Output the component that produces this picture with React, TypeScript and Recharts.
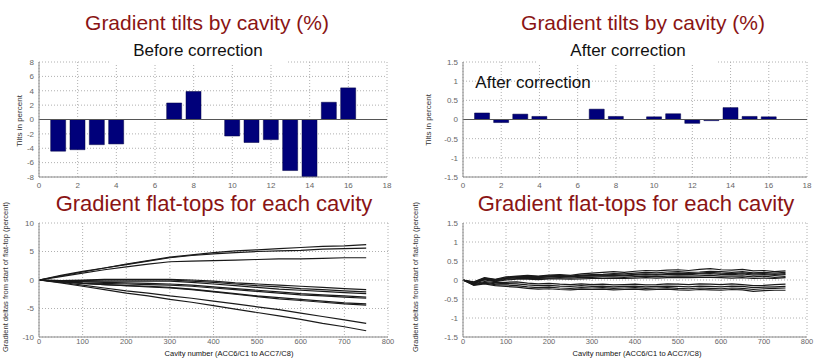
import { BarChart, Bar, LineChart, Line, XAxis, YAxis, CartesianGrid, ReferenceLine } from 'recharts';

// tilts per cavity (percent), cavities 5, 6 and 9 have no bar
const beforeCavity = [1, 2, 3, 4, 7, 8, 10, 11, 12, 13, 14, 15, 16];
const beforeTilt = [-4.4, -4.2, -3.5, -3.4, 2.3, 3.9, -2.3, -3.2, -2.8, -7.1, -8.0, 2.4, 4.4];
const afterCavity = [1, 2, 3, 4, 7, 8, 10, 11, 12, 13, 14, 15, 16];
const afterTilt = [0.17, -0.08, 0.14, 0.08, 0.27, 0.08, 0.07, 0.15, -0.1, -0.03, 0.31, 0.08, 0.07];

const tiltTicks = [0, 2, 4, 6, 8, 10, 12, 14, 16, 18];
const beforeYTicks = [-8, -6, -4, -2, 0, 2, 4, 6, 8];
const afterYTicks = [-1.5, -1, -0.5, 0, 0.5, 1, 1.5];
const cavityTicks = [0, 100, 200, 300, 400, 500, 600, 700, 800];
const beforeFlatTicks = [-10, -5, 0, 5, 10];

// flat-top deltas before correction, sampled every 50 cavities
const beforeX = [0, 50, 100, 150, 200, 250, 300, 350, 400, 450, 500, 550, 600, 650, 700, 750];
const up1 = [0, 0.8, 1.5, 2.1, 2.8, 3.4, 4.0, 4.4, 4.8, 5.1, 5.3, 5.5, 5.7, 5.9, 6.0, 6.2];
const up2 = [0, 0.7, 1.4, 2.1, 2.7, 3.3, 3.9, 4.3, 4.6, 4.8, 5.0, 5.1, 5.2, 5.4, 5.5, 5.6];
const up3 = [0, 0.6, 1.2, 1.8, 2.3, 2.8, 3.2, 3.3, 3.4, 3.5, 3.6, 3.7, 3.7, 3.8, 3.9, 3.9];
const mid1 = [0, -0.1, 0, 0.1, 0.1, 0.1, 0.1, 0, -0.2, -0.5, -0.7, -0.9, -1.1, -1.3, -1.5, -1.7];
const mid2 = [0, -0.1, -0.1, 0, 0, 0, 0, -0.2, -0.4, -0.7, -1.0, -1.2, -1.5, -1.7, -1.9, -2.1];
const mid3 = [0, -0.2, -0.2, -0.2, -0.2, -0.2, -0.2, -0.4, -0.7, -1.0, -1.3, -1.6, -1.8, -2.0, -2.2, -2.4];
const mid4 = [0, -0.2, -0.3, -0.4, -0.5, -0.6, -0.7, -0.9, -1.2, -1.5, -1.8, -2.1, -2.4, -2.6, -2.8, -3.0];
const mid5 = [0, -0.3, -0.5, -0.6, -0.7, -0.8, -0.9, -1.1, -1.4, -1.7, -2.0, -2.3, -2.6, -2.8, -3.0, -3.2];
const mid6 = [0, -0.3, -0.6, -0.8, -1.0, -1.1, -1.3, -1.6, -2.0, -2.4, -2.8, -3.1, -3.4, -3.7, -4.0, -4.2];
const mid7 = [0, -0.3, -0.6, -0.8, -1.0, -1.2, -1.4, -1.7, -2.1, -2.5, -2.9, -3.3, -3.6, -3.9, -4.2, -4.4];
const low1 = [0, -0.4, -0.9, -1.4, -1.9, -2.3, -2.8, -3.2, -3.7, -4.2, -4.7, -5.2, -5.8, -6.4, -7.0, -7.6];
const low2 = [0, -0.5, -1.1, -1.7, -2.3, -2.8, -3.4, -3.9, -4.5, -5.1, -5.7, -6.3, -6.9, -7.6, -8.2, -8.9];
const beforeLines = [up1, up2, up3, mid1, mid2, mid3, mid4, mid5, mid6, mid7, low1, low2];

// flat-top deltas after correction, sampled every 25 cavities
const afterX = [0, 25, 50, 75, 100, 125, 150, 175, 200, 225, 250, 275, 300, 325, 350, 375, 400, 425, 450, 475, 500, 525, 550, 575, 600, 625, 650, 675, 700, 725, 750];
const aA = [0, -0.05, 0.06, 0.02, 0.08, 0.1, 0.12, 0.1, 0.13, 0.14, 0.12, 0.16, 0.18, 0.2, 0.22, 0.2, 0.23, 0.25, 0.24, 0.26, 0.27, 0.25, 0.28, 0.3, 0.27, 0.26, 0.28, 0.24, 0.25, 0.22, 0.24];
const aB = [0, -0.08, 0.04, 0.0, 0.05, 0.08, 0.1, 0.09, 0.11, 0.12, 0.1, 0.13, 0.14, 0.15, 0.17, 0.16, 0.18, 0.2, 0.19, 0.21, 0.22, 0.2, 0.21, 0.23, 0.22, 0.2, 0.22, 0.19, 0.2, 0.18, 0.2];
const aC = [0, -0.1, 0.03, -0.02, 0.04, 0.06, 0.07, 0.06, 0.08, 0.09, 0.08, 0.1, 0.1, 0.11, 0.12, 0.11, 0.13, 0.14, 0.13, 0.15, 0.15, 0.14, 0.16, 0.17, 0.15, 0.14, 0.16, 0.13, 0.14, 0.12, 0.14];
const aD = [0, -0.06, 0.02, -0.03, 0.02, 0.04, 0.05, 0.04, 0.05, 0.06, 0.05, 0.07, 0.07, 0.08, 0.08, 0.07, 0.09, 0.1, 0.09, 0.1, 0.11, 0.1, 0.11, 0.12, 0.1, 0.1, 0.11, 0.08, 0.1, 0.07, 0.09];
const aE = [0, -0.09, 0.0, -0.04, 0.0, 0.02, 0.02, 0.01, 0.03, 0.03, 0.02, 0.03, 0.04, 0.04, 0.05, 0.04, 0.05, 0.06, 0.05, 0.06, 0.07, 0.06, 0.07, 0.07, 0.06, 0.05, 0.06, 0.04, 0.05, 0.04, 0.06];
const aF = [0, -0.1, -0.04, -0.07, -0.06, -0.05, -0.08, -0.1, -0.09, -0.11, -0.12, -0.1, -0.12, -0.11, -0.13, -0.12, -0.11, -0.13, -0.12, -0.1, -0.11, -0.12, -0.1, -0.11, -0.12, -0.1, -0.12, -0.15, -0.14, -0.12, -0.11];
const aG = [0, -0.12, -0.06, -0.1, -0.09, -0.1, -0.13, -0.15, -0.14, -0.16, -0.17, -0.15, -0.17, -0.16, -0.18, -0.17, -0.16, -0.18, -0.17, -0.16, -0.17, -0.18, -0.16, -0.17, -0.18, -0.16, -0.17, -0.2, -0.19, -0.18, -0.17];
const aH = [0, -0.13, -0.08, -0.12, -0.13, -0.15, -0.18, -0.2, -0.19, -0.21, -0.22, -0.2, -0.21, -0.2, -0.22, -0.21, -0.2, -0.22, -0.21, -0.2, -0.22, -0.23, -0.21, -0.22, -0.23, -0.21, -0.22, -0.25, -0.23, -0.22, -0.21];
const aI = [0, -0.14, -0.1, -0.15, -0.17, -0.19, -0.22, -0.24, -0.23, -0.25, -0.26, -0.24, -0.25, -0.24, -0.26, -0.25, -0.24, -0.26, -0.25, -0.24, -0.26, -0.27, -0.25, -0.26, -0.27, -0.25, -0.26, -0.3, -0.28, -0.27, -0.27];
const aJ = [0, -0.07, 0.05, 0.01, 0.06, 0.09, 0.08, 0.07, 0.09, 0.1, 0.09, 0.11, 0.12, 0.13, 0.14, 0.13, 0.15, 0.16, 0.15, 0.17, 0.18, 0.17, 0.18, 0.2, 0.18, 0.17, 0.19, 0.16, 0.17, 0.15, 0.17];
const afterLines = [aA, aB, aC, aD, aE, aF, aG, aH, aI, aJ];

const FONT = '"Liberation Sans", Arial, sans-serif';
const RED = '#8a1414';
const BAR = '#00007a';
const FRAME = '#8a8a8a';
const GRID = '#b0b0b0';
const TICK = { fontSize: 8, fill: '#666', fontFamily: FONT };
const SMALL_TICK = { fontSize: 7.5, fill: '#666', fontFamily: FONT };

const toRows = (xs: number[], lines: number[][]) =>
  xs.map((x, i) => {
    const row: any = { cavity: x };
    lines.forEach((l, j) => (row['s' + j] = l[i]));
    return row;
  });

const beforeBars = beforeCavity.map((c, i) => ({ cavity: c, tilt: beforeTilt[i] }));
const afterBars = afterCavity.map((c, i) => ({ cavity: c, tilt: afterTilt[i] }));
const beforeRows = toRows(beforeX, beforeLines);
const afterRows = toRows(afterX, afterLines);

function Text({ x, y, size, color = '#111', children, bg }: any) {
  return (
    <div
      style={{
        position: 'absolute',
        left: x,
        top: y,
        transform: 'translate(-50%, -50%)',
        fontSize: size,
        color,
        fontFamily: FONT,
        whiteSpace: 'nowrap',
        lineHeight: 1,
        background: bg,
      }}
    >
      {children}
    </div>
  );
}

function VText({ x, y, size, children }: any) {
  return (
    <div
      style={{
        position: 'absolute',
        left: x,
        top: y,
        transform: 'translate(-50%, -50%) rotate(-90deg)',
        fontSize: size,
        color: '#333',
        fontFamily: FONT,
        whiteSpace: 'nowrap',
        lineHeight: 1,
      }}
    >
      {children}
    </div>
  );
}

function TiltChart({ data, yTicks, left, right }: any) {
  const lo = yTicks[0];
  const hi = yTicks[yTicks.length - 1];
  return (
    <BarChart width={410} height={190} data={data} margin={{ top: 62, right, left: 0, bottom: 0 }}>
      <CartesianGrid strokeDasharray="1 2" stroke={GRID} />
      <XAxis dataKey="cavity" type="number" domain={[0, 18]} ticks={tiltTicks} tick={TICK} tickLine={false} tickSize={3} height={13} stroke={FRAME} interval={0} />
      <XAxis xAxisId="top" orientation="top" type="number" domain={[0, 18]} ticks={tiltTicks} tick={false} tickLine={false} height={0} stroke={FRAME} />
      <YAxis type="number" domain={[lo, hi]} ticks={yTicks} tick={TICK} tickLine={false} tickSize={3} width={left} stroke={FRAME} interval={0} allowDataOverflow />
      <YAxis yAxisId="right" orientation="right" tick={false} tickLine={false} width={0} stroke={FRAME} />
      <ReferenceLine y={0} stroke="#555" strokeWidth={1} />
      <Bar dataKey="tilt" fill={BAR} stroke="#000040" strokeWidth={0.5} barSize={15} isAnimationActive={false} />
    </BarChart>
  );
}

function FlatChart({ data, count, yTicks, left, right }: any) {
  const lo = yTicks[0];
  const hi = yTicks[yTicks.length - 1];
  const keys = Array.from({ length: count }, (_, i) => 's' + i);
  return (
    <LineChart width={410} height={168} data={data} margin={{ top: 33, right, left: 0, bottom: 0 }}>
      <CartesianGrid strokeDasharray="1 2" stroke={GRID} />
      <XAxis dataKey="cavity" type="number" domain={[0, 800]} ticks={cavityTicks} tick={SMALL_TICK} tickLine={false} tickSize={1} tickMargin={1} height={21} stroke={FRAME} interval={0} />
      <XAxis xAxisId="top" orientation="top" type="number" domain={[0, 800]} ticks={cavityTicks} tick={false} tickLine={false} height={0} stroke={FRAME} />
      <YAxis type="number" domain={[lo, hi]} ticks={yTicks} tick={TICK} tickLine={false} tickSize={3} width={left} stroke={FRAME} interval={0} />
      <YAxis yAxisId="right" orientation="right" tick={false} tickLine={false} width={0} stroke={FRAME} />
      {keys.map((k) => (
        <Line key={k} dataKey={k} type="linear" stroke="#1a1a1a" strokeWidth={1.2} dot={false} isAnimationActive={false} />
      ))}
    </LineChart>
  );
}

export default function App() {
  return (
    <div style={{ position: 'absolute', left: 0, top: 0, width: 820, height: 358, background: '#fff', overflow: 'hidden' }}>
      <div style={{ position: 'absolute', left: 0, top: 0 }}>
        <TiltChart data={beforeBars} yTicks={beforeYTicks} left={39} right={23} />
      </div>
      <div style={{ position: 'absolute', left: 410, top: 0 }}>
        <TiltChart data={afterBars} yTicks={afterYTicks} left={53} right={13} />
      </div>
      <div style={{ position: 'absolute', left: 0, top: 190 }}>
        <FlatChart data={beforeRows} count={beforeLines.length} yTicks={beforeFlatTicks} left={39} right={22} />
      </div>
      <div style={{ position: 'absolute', left: 410, top: 190 }}>
        <FlatChart data={afterRows} count={afterLines.length} yTicks={afterYTicks} left={53} right={13} />
      </div>

      <Text x={207} y={22} size={21} color={RED}>Gradient tilts by cavity (%)</Text>
      <Text x={643} y={22} size={21} color={RED}>Gradient tilts by cavity (%)</Text>
      <div style={{ position: 'absolute', left: 109, top: 38, width: 179, height: 26, background: '#fff' }} />
      <div style={{ position: 'absolute', left: 538, top: 38, width: 179, height: 26, background: '#fff' }} />
      <Text x={198} y={50} size={17}>Before correction</Text>
      <Text x={628} y={50} size={17}>After correction</Text>
      <Text x={533} y={82} size={17}>After correction</Text>
      <VText x={20} y={121} size={8}>Tilts in percent</VText>
      <VText x={429} y={120} size={8}>Tilts in percent</VText>

      <Text x={214} y={204} size={22} color={RED}>Gradient flat-tops for each cavity</Text>
      <Text x={636} y={204} size={22} color={RED}>Gradient flat-tops for each cavity</Text>
      <VText x={6} y={277} size={7.5}>Gradient deltas from start of flat-top (percent)</VText>
      <VText x={416} y={277} size={7.5}>Gradient deltas from start of flat-top (percent)</VText>
      <Text x={229} y={354} size={7.5}>Cavity number (ACC6/C1 to ACC7/C8)</Text>
      <Text x={637} y={354} size={7.5}>Cavity number (ACC6/C1 to ACC7/C8)</Text>
    </div>
  );
}
